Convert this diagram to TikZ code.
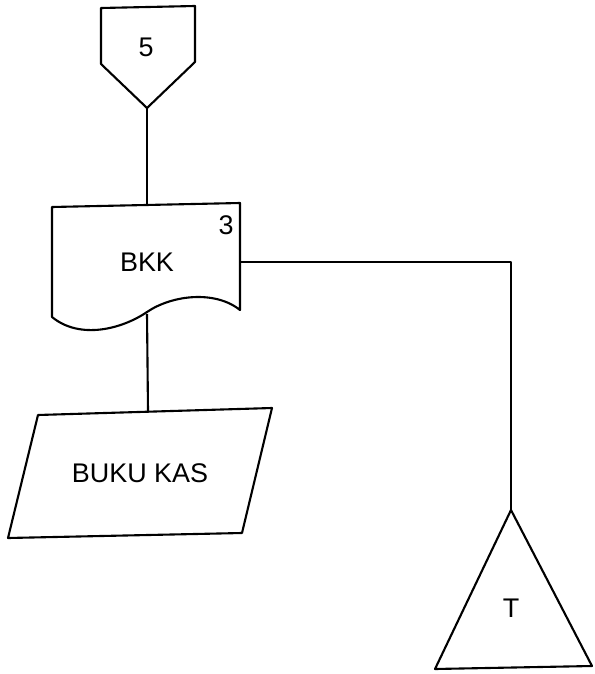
\documentclass[tikz,border=0pt]{standalone}
\usepackage{fontspec}
\setmainfont{Liberation Sans}
\begin{document}
\begin{tikzpicture}[x=0.03cm,y=-0.03cm,line width=1.8pt,line join=round,
    lbl/.style={font=\fontsize{23}{27}\selectfont,inner sep=0pt}]
    \useasboundingbox (0,0) rectangle (595,674);

    % Off-page connector 5
    \draw (101,8) -- (195,6) -- (195,62) -- (147,108) -- (101,64) -- cycle;
    \coordinate (opc-tip) at (147,108);
    \node[lbl] (opc) at (146,47) {5};

    % Document BKK
    \draw (52,207) -- (240,203) -- (240,310)
      .. controls (215,290) and (172,295) .. (147,312)
      .. controls (122,329) and (80,340) .. (52,317) -- cycle;
    \coordinate (bkk-top) at (147,205);
    \coordinate (bkk-bottom) at (147,314);
    \coordinate (bkk-right) at (240,262);
    \node[lbl] (bkk) at (147,262) {BKK};
    \node[lbl] (bkk-no) at (226,225) {3};

    % Buku kas
    \draw (38,415) -- (272,408) -- (242,533) -- (8,538) -- cycle;
    \coordinate (kas-top) at (148,411);
    \node[lbl] (kas) at (140,473) {BUKU KAS};

    % Terminal T
    \draw (511,510) -- (592,666) -- (435,669) -- cycle;
    \coordinate (file-apex) at (511,510);
    \node[lbl] (file) at (511,608) {T};

    % Connectors
    \draw (opc-tip) -- (bkk-top);
    \draw (bkk-bottom) -- (kas-top);
    \draw (bkk-right) -| (file-apex);
\end{tikzpicture}
\end{document}
